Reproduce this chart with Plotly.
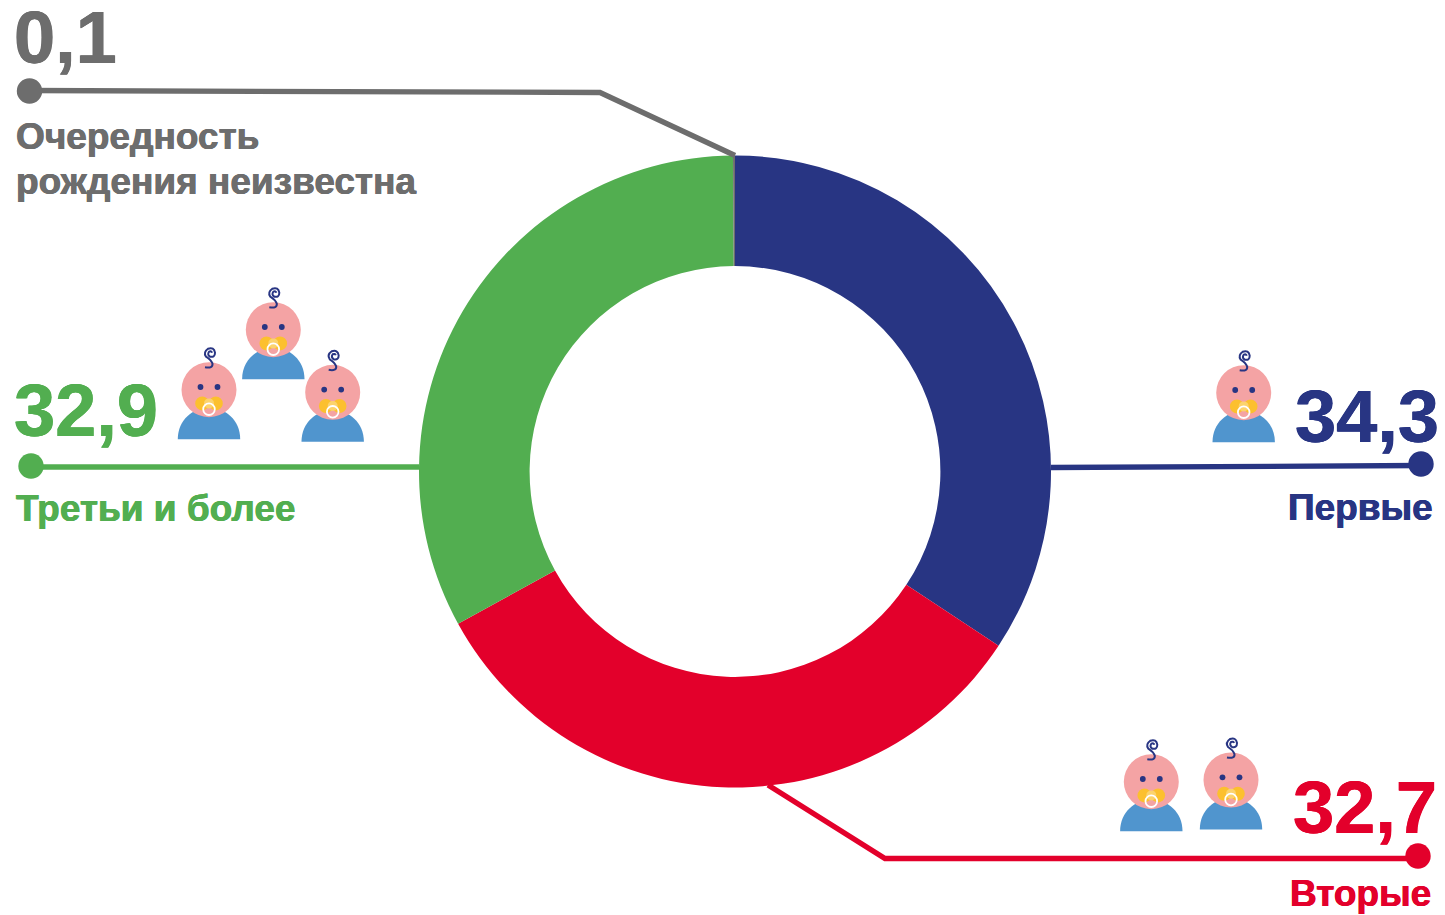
import plotly.graph_objects as go

W, H = 1445, 915
categories = ["Первые", "Вторые", "Третьи и более", "Очередность рождения неизвестна"]
values = [34.3, 32.7, 32.9, 0.1]
value_labels = ["34,3", "32,7", "32,9", "0,1"]
label_texts = ["Первые", "Вторые", "Третьи и более", "Очередность", "рождения неизвестна"]
colors = ["#283583", "#e3002b", "#52ae50", "#6d6d6d"]
FONT = "Liberation Sans, Arial, sans-serif"

def px(x): return x / W
def py(y): return 1 - y / H

fig = go.Figure(go.Pie(
    values=values, labels=categories, sort=False, direction="clockwise", rotation=0,
    hole=0.65, textinfo="none", showlegend=False,
    marker=dict(colors=colors, line=dict(width=0)),
    domain=dict(x=[419 / W, 1051 / W], y=[1 - 787.5 / H, 1 - 155.5 / H]),
))

shapes = []
def line_path(pts, color):
    d = "M " + " L ".join(f"{px(a):.5f},{py(b):.5f}" for a, b in pts)
    shapes.append(dict(type="path", path=d, xref="paper", yref="paper", line=dict(color=color, width=5.3), fillcolor="rgba(0,0,0,0)"))

def circle(cx, cy, rx, ry=None, fill=None, stroke=None, sw=0):
    ry = rx if ry is None else ry
    shapes.append(dict(type="circle", xref="paper", yref="paper",
                       x0=px(cx - rx), x1=px(cx + rx), y0=py(cy + ry), y1=py(cy - ry),
                       fillcolor=fill or "rgba(0,0,0,0)",
                       line=dict(color=stroke or "rgba(0,0,0,0)", width=sw)))

def rel_path(cmds, cx, cy, **kw):
    out = []
    for c in cmds:
        nums = c[1:]
        pairs = [f"{px(cx + nums[i]):.5f},{py(cy + nums[i + 1]):.5f}" for i in range(0, len(nums), 2)]
        out.append(c[0] + " " + " ".join(pairs))
    shapes.append(dict(type="path", path=" ".join(out), xref="paper", yref="paper", **kw))

def baby(hx, hy):
    rel_path([("M", -31.2, 49.5), ("C", -31.2, 30, -16, 18, 0, 18), ("C", 16, 18, 31.2, 30, 31.2, 49.5), ("Z",)],
             hx, hy, fillcolor="#5095ce", line=dict(width=0))
    circle(hx, hy, 27.5, fill="#f4a3a4")
    circle(hx - 8.5, hy - 2.7, 2.9, fill="#283583")
    circle(hx + 8.5, hy - 2.7, 2.9, fill="#283583")
    circle(hx - 6.8, hy + 13.7, 7, fill="#fcc02e")
    circle(hx + 6.8, hy + 13.7, 7, fill="#fcc02e")
    circle(hx, hy + 13.7, 5, fill="#fcd36d")
    circle(hx, hy + 19.5, 5.8, stroke="#ffffff", sw=1.8)
    rel_path([("M", -4, -22.5), ("Q", 4, -21, 3.5, -26), ("Q", 2, -30, -3, -33), ("Q", -6, -37.5, -1, -41),
              ("Q", 5, -43, 6, -37), ("Q", 6, -32, 1, -33), ("Q", -2, -35, 0, -38), ("Q", 2.5, -39, 3, -37)],
             hx, hy, fillcolor="rgba(0,0,0,0)", line=dict(color="#283583", width=2))

line_path([(29, 90.5), (600, 92.5), (735, 155.5)], colors[3])
circle(29.5, 91, 12.7, fill=colors[3])
line_path([(1051, 467.5), (1421, 465.5)], colors[0])
circle(1421, 464, 12.7, fill=colors[0])
line_path([(768, 785), (885, 858.5), (1418, 858.5)], colors[1])
circle(1418, 856, 12.7, fill=colors[1])
line_path([(31, 467), (419, 467)], colors[2])
circle(31, 466, 12.7, fill=colors[2])

for hx, hy in [(273.3, 329.7), (209, 389.7), (332.7, 392.3), (1151.3, 781.7), (1231, 780), (1243.7, 392.7)]:
    baby(hx, hy)

def text(x, y, s, color, size, anchor="left"):
    return dict(x=px(x), y=py(y), xref="paper", yref="paper", text=f"<b>{s}</b>", showarrow=False,
                xanchor=anchor, yanchor="middle", align=anchor, borderpad=0,
                font=dict(family=FONT, size=size, color=color,
                          shadow=f"0.4px 0 0 {color}, -0.4px 0 0 {color}"))

annotations = [
    text(1440, 416.5, value_labels[0], colors[0], 74, "right"),
    text(1438, 807.5, value_labels[1], colors[1], 74, "right"),
    text(13, 410.5, value_labels[2], colors[2], 74),
    text(13, 37.5, value_labels[3], colors[3], 74),
    text(1434, 507.5, label_texts[0], colors[0], 37, "right"),
    text(1432, 893.5, label_texts[1], colors[1], 37, "right"),
    text(15, 508.5, label_texts[2], colors[2], 37),
    text(15, 136.5, label_texts[3], colors[3], 37),
    text(15, 181.5, label_texts[4], colors[3], 37),
]

fig.update_layout(width=W, height=H, margin=dict(l=0, r=0, t=0, b=0),
                  paper_bgcolor="white", plot_bgcolor="white",
                  shapes=shapes, annotations=annotations)
fig.write_html("out.html", config=dict(displayModeBar=False),
               post_script="document.body.style.margin='0';document.body.style.overflow='hidden';")
